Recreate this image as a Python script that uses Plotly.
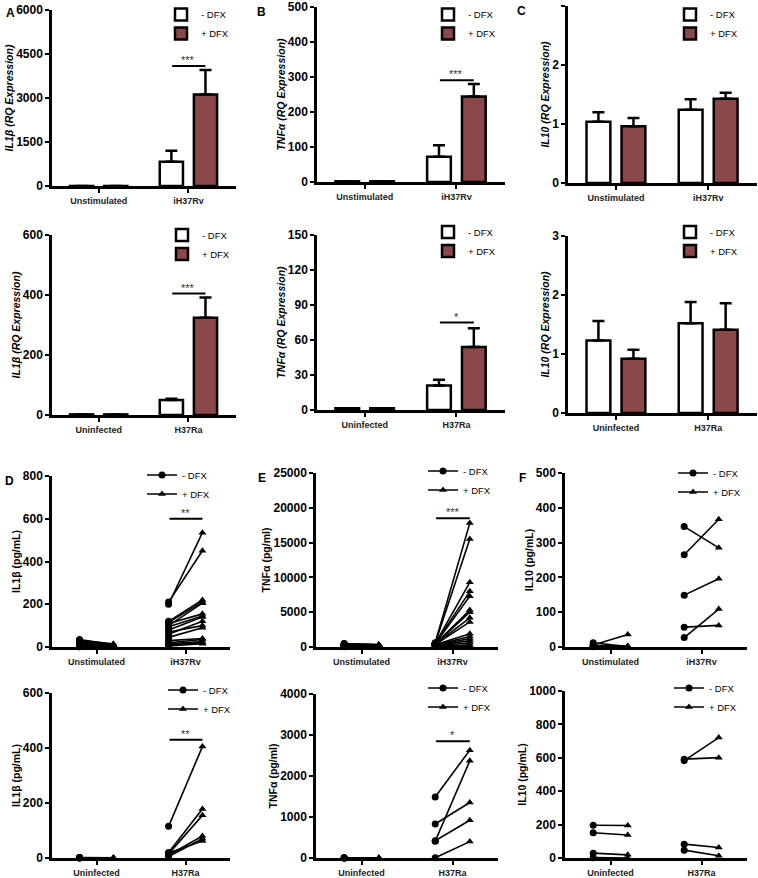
import plotly.graph_objects as go

W, H = 758, 878

# ------------------------------------------------------------------ data
cats_top = ["Unstimulated", "iH37Rv"]
cats_bottom = ["Uninfected", "H37Ra"]

# A: IL1b RQ expression (mean, upper SEM)
a1_minus = [1, 830]
a1_minus_err = [0, 375]
a1_plus = [1, 3120]
a1_plus_err = [0, 835]
a2_minus = [2, 50]
a2_minus_err = [0, 4]
a2_plus = [2, 324]
a2_plus_err = [0, 68]

# B: TNFa RQ expression
b1_minus = [2, 72]
b1_minus_err = [0, 33]
b1_plus = [2, 244]
b1_plus_err = [0, 36]
b2_minus = [1.5, 21]
b2_minus_err = [0, 5]
b2_plus = [1.5, 54]
b2_plus_err = [0, 16]

# C: IL10 RQ expression
c1_minus = [1.04, 1.24]
c1_minus_err = [0.16, 0.18]
c1_plus = [0.96, 1.43]
c1_plus_err = [0.14, 0.10]
c2_minus = [1.23, 1.52]
c2_minus_err = [0.33, 0.36]
c2_plus = [0.92, 1.41]
c2_plus_err = [0.15, 0.45]

# D: IL1b pg/mL paired donors
d1_unstim_minus = [35, 30, 25, 20, 15, 12, 10, 8, 6, 5, 4, 3, 2, 2, 1, 1]
d1_unstim_plus = [12, 15, 10, 8, 6, 5, 5, 4, 3, 3, 2, 2, 1, 1, 1, 0]
d1_rv_minus = [210, 200, 120, 115, 110, 100, 95, 80, 70, 60, 45, 30, 20, 15, 10, 5]
d1_rv_plus = [450, 535, 220, 210, 155, 205, 145, 140, 100, 120, 90, 40, 35, 25, 20, 15]
d2_uninf_minus = [2, 1, 1, 1, 0, 0]
d2_uninf_plus = [1, 1, 0, 0, 0, 0]
d2_ra_minus = [115, 20, 18, 15, 10, 5]
d2_ra_plus = [405, 178, 62, 155, 80, 70]

# E: TNFa pg/ml paired donors
e1_unstim_minus = [500, 450, 400, 350, 300, 280, 250, 220, 200, 180, 150, 120, 100, 80, 60, 50]
e1_unstim_plus = [350, 300, 320, 250, 280, 200, 220, 180, 150, 160, 120, 100, 90, 70, 50, 40]
e1_rv_minus = [600, 550, 500, 480, 450, 420, 400, 380, 350, 320, 300, 250, 200, 150, 100, 50]
e1_rv_plus = [17800, 15500, 9300, 8000, 7300, 5300, 5000, 4200, 3600, 1900, 1500, 1200, 900, 600, 300, 100]
e2_uninf_minus = [5, 4, 3, 2, 1]
e2_uninf_plus = [4, 3, 2, 1, 0]
e2_ra_minus = [1490, 830, 410, 420, 5]
e2_ra_plus = [2630, 1355, 2370, 920, 400]

# F: IL10 pg/mL paired donors
f1_unstim_minus = [12, 6, 4, 2, 1]
f1_unstim_plus = [1, 36, 3, 0, 2]
f1_rv_minus = [346, 265, 149, 57, 27]
f1_rv_plus = [285, 367, 196, 62, 109]
f2_uninf_minus = [196, 151, 29, 2]
f2_uninf_plus = [195, 138, 19, 0]
f2_ra_minus = [583, 592, 83, 47]
f2_ra_plus = [721, 601, 63, 13]

# significance brackets: (panel, category index, y value, label)
sig_marks = [
    (1, 1, 4090, "***"),
    (2, 1, 291, "***"),
    (4, 1, 405, "***"),
    (5, 1, 75, "*"),
    (7, 1, 600, "**"),
    (8, 1, 18500, "***"),
    (10, 1, 430, "**"),
    (11, 1, 2850, "*"),
]

panel_letters = ["A", "B", "C", "D", "E", "F"]
legend_names = ["- DFX", "+ DFX"]

# ------------------------------------------------------------------ style / layout geometry
RED = "#8c4849"
FONT = "Arial, Liberation Sans, sans-serif"


def px_dom_x(a, b):
    return [a / W, b / W]


def px_dom_y(top, bottom):
    return [1 - bottom / H, 1 - top / H]


panels = [
    # bars row 1
    dict(x=(52, 236), y=(10, 186), ymax=6000, dtick=1500, title="IL1β (RQ Expression)", kind="bar",
         cats=cats_top, minus=a1_minus, minus_err=a1_minus_err, plus=a1_plus, plus_err=a1_plus_err,
         leg=(184, 15)),
    dict(x=(317, 505), y=(7, 182), ymax=500, dtick=100, title="TNFα (RQ Expression)", kind="bar",
         cats=cats_top, minus=b1_minus, minus_err=b1_minus_err, plus=b1_plus, plus_err=b1_plus_err,
         leg=(451, 12)),
    dict(x=(568, 757), y=(6, 183), ymax=3, dtick=1, title="IL10 (RQ Expression)", kind="bar",
         cats=cats_top, minus=c1_minus, minus_err=c1_minus_err, plus=c1_plus, plus_err=c1_plus_err,
         leg=(693, 12)),
    # bars row 2
    dict(x=(52, 236), y=(235, 415), ymax=600, dtick=200, title="IL1β (RQ Expression)", kind="bar",
         cats=cats_bottom, minus=a2_minus, minus_err=a2_minus_err, plus=a2_plus, plus_err=a2_plus_err,
         leg=(185, 238)),
    dict(x=(317, 505), y=(235, 410), ymax=150, dtick=30, title="TNFα (RQ Expression)", kind="bar",
         cats=cats_bottom, minus=b2_minus, minus_err=b2_minus_err, plus=b2_plus, plus_err=b2_plus_err,
         leg=(451, 235)),
    dict(x=(568, 757), y=(236, 413), ymax=3, dtick=1, title="IL10 (RQ Expression)", kind="bar",
         cats=cats_bottom, minus=c2_minus, minus_err=c2_minus_err, plus=c2_plus, plus_err=c2_plus_err,
         leg=(693, 235)),
    # lines row 3
    dict(x=(52, 230), y=(476, 647), ymax=800, dtick=200, title="IL1β (pg/mL)", kind="line",
         cats=cats_top, g0=(d1_unstim_minus, d1_unstim_plus), g1=(d1_rv_minus, d1_rv_plus),
         leg=(165, 478)),
    dict(x=(316, 498), y=(473, 647), ymax=25000, dtick=5000, title="TNFα (pg/ml)", kind="line",
         cats=cats_top, g0=(e1_unstim_minus, e1_unstim_plus), g1=(e1_rv_minus, e1_rv_plus),
         leg=(446, 474)),
    dict(x=(565, 747), y=(473, 647), ymax=500, dtick=100, title="IL10 (pg/mL)", kind="line",
         cats=cats_top, g0=(f1_unstim_minus, f1_unstim_plus), g1=(f1_rv_minus, f1_rv_plus),
         leg=(696, 476)),
    # lines row 4
    dict(x=(52, 230), y=(693, 858), ymax=600, dtick=200, title="IL1β (pg/mL)", kind="line",
         cats=cats_bottom, g0=(d2_uninf_minus, d2_uninf_plus), g1=(d2_ra_minus, d2_ra_plus),
         leg=(186, 693)),
    dict(x=(316, 498), y=(694, 858), ymax=4000, dtick=1000, title="TNFα (pg/ml)", kind="line",
         cats=cats_bottom, g0=(e2_uninf_minus, e2_uninf_plus), g1=(e2_ra_minus, e2_ra_plus),
         leg=(446, 691)),
    dict(x=(565, 747), y=(691, 858), ymax=1000, dtick=200, title="IL10 (pg/mL)", kind="line",
         cats=cats_bottom, g0=(f2_uninf_minus, f2_uninf_plus), g1=(f2_ra_minus, f2_ra_plus),
         leg=(692, 691)),
]

OFF = 0.19  # half distance between -DFX and +DFX within a category

fig = go.Figure()
layout = dict(
    width=W, height=H, margin=dict(l=0, r=0, t=0, b=0, autoexpand=False),
    paper_bgcolor="white", plot_bgcolor="white",
    barmode="group", bargap=0.24, bargroupgap=0.32,
    font=dict(family=FONT, color="black"),
    showlegend=True,
)
annotations = []
shapes = []

for i, p in enumerate(panels):
    n = i + 1
    sfx = "" if n == 1 else str(n)
    xa, ya = "x" + sfx, "y" + sfx
    leg_id = "legend" + sfx
    italic = p["kind"] == "bar"

    if p["kind"] == "bar":
        for name, vals, errs, color in [
            (legend_names[0], p["minus"], p["minus_err"], "white"),
            (legend_names[1], p["plus"], p["plus_err"], RED),
        ]:
            fig.add_trace(go.Bar(
                x=p["cats"], y=vals, name=name, xaxis=xa, yaxis=ya, legend=leg_id,
                marker=dict(color=color, line=dict(color="black", width=2.5)),
                error_y=dict(type="data", array=errs, arrayminus=[0] * len(errs), symmetric=False,
                             color="black", thickness=2.5, width=6),
                cliponaxis=False, hoverinfo="skip",
            ))
        xaxis = dict(type="category", range=[-0.52, 1.53], tickson="labels")
    else:
        xs, ys, syms = [], [], []
        for ci, (mv, pv) in enumerate([p["g0"], p["g1"]]):
            for m, v in zip(mv, pv):
                xs += [ci - OFF, ci + OFF, None]
                ys += [m, v, None]
                syms += ["circle", "triangle-up", "circle"]
        fig.add_trace(go.Scatter(
            x=xs, y=ys, mode="lines+markers", xaxis=xa, yaxis=ya, showlegend=False,
            line=dict(color="black", width=1.6),
            marker=dict(symbol=syms, size=7, color="black"),
            cliponaxis=False, hoverinfo="skip",
        ))
        for name, sym in [(legend_names[0], "circle"), (legend_names[1], "triangle-up")]:
            fig.add_trace(go.Scatter(
                x=[None], y=[None], mode="lines+markers", name=name, xaxis=xa, yaxis=ya,
                legend=leg_id, line=dict(color="black", width=1.6),
                marker=dict(symbol=sym, size=7, color="black"),
            ))
        xaxis = dict(type="linear", range=[-0.5, 1.5], tickvals=[0, 1], ticktext=p["cats"])

    xaxis.update(
        domain=px_dom_x(*p["x"]), anchor=ya, showline=True, linecolor="black", linewidth=2.5,
        ticks="outside", ticklen=4, tickwidth=2, tickcolor="black", showgrid=False, zeroline=False,
        tickfont=dict(size=9, family=FONT, color="#222", weight="bold"), fixedrange=True,
    )
    yaxis = dict(
        domain=px_dom_y(*p["y"]), anchor=xa, range=[0, p["ymax"]], dtick=p["dtick"], tick0=0,
        showline=True, linecolor="black", linewidth=2.5, ticks="outside", ticklen=4, tickwidth=2,
        tickcolor="black", showgrid=False, zeroline=False, tickformat="d", automargin=True,
        tickfont=dict(size=12, family=FONT, color="black", weight="bold"),
        title=dict(text=p["title"], font=dict(size=10.5, family=FONT, color="black",
                                              weight="bold", style="italic" if italic else "normal"),
                   standoff=1),
        fixedrange=True,
    )
    layout["xaxis" + sfx] = xaxis
    layout["yaxis" + sfx] = yaxis

    lx, ly = p["leg"]
    top_px = max(0.0, ly - 17.5)
    layout[leg_id] = dict(
        x=(lx - 23) / W, y=1 - top_px / H, xanchor="left", yanchor="top",
        bgcolor="rgba(0,0,0,0)", borderwidth=0, font=dict(size=9.5, family=FONT, color="black"),
        itemclick=False, itemdoubleclick=False, tracegroupgap=0,
    )

# significance brackets
for (pn, ci, yv, lab) in sig_marks:
    sfx = "" if pn == 1 else str(pn)
    shapes.append(dict(type="line", xref="x" + sfx, yref="y" + sfx, x0=ci - 0.18, x1=ci + 0.19,
                       y0=yv, y1=yv, line=dict(color="black", width=2)))
    annotations.append(dict(xref="x" + sfx, yref="y" + sfx, x=ci, y=yv, text=lab, showarrow=False,
                            yanchor="bottom", yshift=-2, font=dict(size=11, family=FONT, color="#333")))

# panel letters
letter_pos = [(4, 4), (255, 3), (515, 2), (3, 472), (256, 469), (517, 469)]
for lab, (lx, ly) in zip(panel_letters, letter_pos):
    annotations.append(dict(xref="paper", yref="paper", x=lx / W, y=1 - ly / H, xanchor="left",
                            yanchor="top", text=lab, showarrow=False,
                            font=dict(size=12, family=FONT, color="black", weight="bold")))

layout["annotations"] = annotations
layout["shapes"] = shapes
fig.update_layout(**layout)
# the page's default 8px body margin would shift the figure; remove it so the
# 758x878 figure fills the window exactly
fig.write_html("out.html", config={"displayModeBar": False},
               post_script="document.body.style.margin='0px';document.body.style.padding='0px';")
